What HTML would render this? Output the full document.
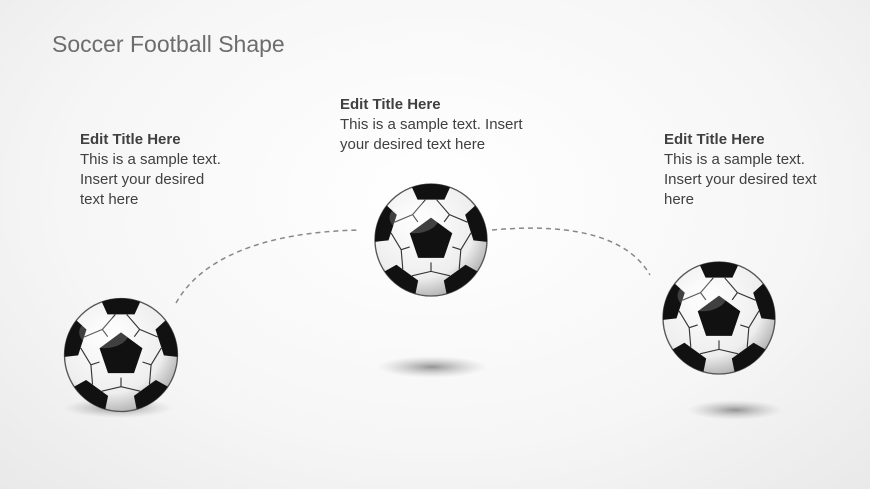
<!DOCTYPE html>
<html><head><meta charset="utf-8"><style>
body{margin:0;width:870px;height:489px;overflow:hidden;background:radial-gradient(ellipse at 50% 40%,#ffffff 0%,#f6f6f6 60%,#e9e9e9 100%);font-family:"Liberation Sans",sans-serif;position:relative}
.t{position:absolute;color:#404040;font-size:15px;line-height:20px}
.t b{color:#404040}
h1{position:absolute;left:52px;top:31px;margin:0;font-weight:normal;font-size:23px;color:#6d6d6d}
</style></head><body>
<h1>Soccer Football Shape</h1>
<div class="t" style="left:80px;top:130px"><b>Edit Title Here</b><br>This is a sample text.<br>Insert your desired<br>text here</div>
<div class="t" style="left:340px;top:95px"><b>Edit Title Here</b><br>This is a sample text. Insert<br>your desired text here</div>
<div class="t" style="left:664px;top:130px"><b>Edit Title Here</b><br>This is a sample text.<br>Insert your desired text<br>here</div>
<svg width="870" height="489" style="position:absolute;left:0;top:0">
<defs>
<radialGradient id="w" cx="40%" cy="35%" r="70%"><stop offset="0" stop-color="#fff"/><stop offset="0.7" stop-color="#eee"/><stop offset="1" stop-color="#aaa"/></radialGradient>
<radialGradient id="sh"><stop offset="0" stop-color="#888" stop-opacity=".9"/><stop offset="1" stop-color="#bbb" stop-opacity="0"/></radialGradient>
<g id="ball">
<circle r="50" fill="url(#w)" stroke="#555" stroke-width="1.2"/>
<g fill="#111">
<polygon points="0,-20 19,-6 11.5,16 -11.5,16 -19,-6"/>
<path id="p" d="M-17,-47 A50,50 0 0 1 17,-47 L12,-36 L-12,-36 Z"/>
<use href="#p" transform="rotate(72)"/><use href="#p" transform="rotate(144)"/><use href="#p" transform="rotate(216)"/><use href="#p" transform="rotate(288)"/>
</g>
<g stroke="#333" stroke-width="1" fill="none" transform="rotate(36)">
<path id="l" d="M0,-20 L0,-28 M0,-28 L-17,-32 M0,-28 L17,-32"/>
<use href="#l" transform="rotate(72)"/><use href="#l" transform="rotate(144)"/><use href="#l" transform="rotate(216)"/><use href="#l" transform="rotate(288)"/>
</g>
<ellipse cx="-15" cy="-20" rx="22" ry="14" fill="#fff" opacity=".2"/>
</g>
</defs>
<path d="M176,303 C200,260 260,232 360,230" fill="none" stroke="#888" stroke-width="1.5" stroke-dasharray="5,4"/>
<path d="M492,230 C580,222 630,240 650,275" fill="none" stroke="#888" stroke-width="1.5" stroke-dasharray="5,4"/>
<ellipse cx="118" cy="408" rx="55" ry="10" fill="url(#sh)"/>
<ellipse cx="432" cy="367" rx="55" ry="11" fill="url(#sh)"/>
<ellipse cx="735" cy="410" rx="48" ry="10" fill="url(#sh)"/>
<use href="#ball" transform="translate(121,355) scale(1.13)"/>
<use href="#ball" transform="translate(431,240) scale(1.12)"/>
<use href="#ball" transform="translate(719,318) scale(1.12)"/>
</svg>
</body></html>
